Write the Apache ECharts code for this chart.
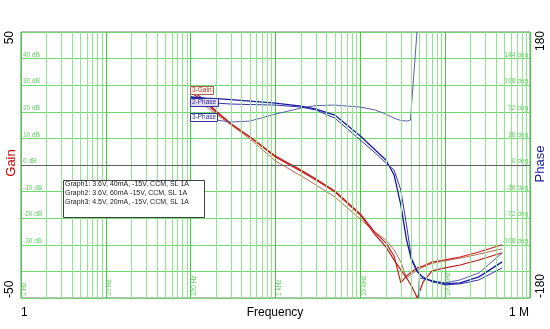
<!DOCTYPE html>
<html>
<head>
<meta charset="utf-8">
<script src="https://cdn.jsdelivr.net/npm/echarts@6/dist/echarts.min.js"></script>
<style>
html,body{margin:0;padding:0;background:#fff;}
#chart{width:550px;height:329px;}
</style>
</head>
<body>
<div id="chart"></div>
<script>
// ---- data (frequency in Hz) ----
var freq = [100, 150, 200, 300, 500, 1000, 2000, 3000, 5000, 10000, 15000, 20000, 25000, 30000, 35000, 40000, 47000, 55000, 70000, 100000, 150000, 250000, 470000];

var gain1 = [28.5, 24.0, 20.3, 15.4, 10.5, 3.4, -1.9, -5.3, -9.8, -18.4, -25.5, -29.3, -34.2, -44.3, -41.7, -40.2, -38.7, -38.0, -36.5, -35.7, -34.6, -32.7, -30.0];
var gain2 = [27.4, 23.3, 19.9, 15.4, 10.5, 3.0, -2.3, -5.6, -10.1, -18.8, -26.3, -30.8, -35.7, -39.4, -42.4, -45.4, -50.0, -43.9, -39.8, -38.7, -37.6, -35.7, -33.0];
var gain3 = [25.9, 22.2, 19.2, 15.0, 9.8, 1.5, -4.1, -7.5, -12.0, -20.3, -25.2, -28.2, -31.9, -36.4, -42.5, -41.0, -39.5, -38.3, -37.0, -36.0, -35.0, -33.5, -31.5];

var phase1 = [92.0, 90.6, 89.9, 88.5, 86.5, 83.8, 79.8, 75.7, 67.6, 39.2, 20.3, 6.8, -13.5, -54.0, -101.0, -128.0, -144.6, -152.8, -156.8, -160.9, -159.5, -151.4, -131.1];
var phase2 = [86.5, 85.2, 83.8, 82.5, 81.8, 81.1, 78.4, 74.4, 63.5, 33.8, 16.2, 2.7, -6.8, -33.8, -81.0, -125.7, -143.3, -151.4, -158.2, -162.2, -160.9, -155.5, -139.2];

var freq3 = [100, 150, 200, 300, 500, 1000, 2000, 3000, 5000, 10000, 15000, 20000, 25000, 30000, 35000, 39000, 46500, 46500, 48500, 49500, 55000, 70000, 100000, 150000, 250000, 470000];
var phase3 = [63.5, 62.2, 60.8, 58.1, 59.5, 68.9, 77.1, 80.4, 81.1, 78.4, 74.4, 68.9, 63.5, 60.2, 59.5, 60.8, 180, null, -180, -152.8, -154.0, -156.8, -159.5, -155.5, -146.0, -119.0];

var gainTicks = [-50, -40, -30, -20, -10, 0, 10, 20, 30, 40, 50];
var phaseTicks = [-180, -144, -108, -72, -36, 0, 36, 72, 108, 144, 180];
var freqTickLabels = {1: '1 Hz', 10: '10 Hz', 100: '100 Hz', 1000: '1 kHz', 10000: '10 kHz', 100000: '100 kHz'};
var legendLines = ['Graph1: 3.6V, 40mA, -15V, CCM, SL 1A', 'Graph2: 3.6V, 60mA -15V, CCM, SL 1A', 'Graph3: 4.5V, 20mA, -15V, CCM, SL 1A'];

function pairs(xs, ys) {
  return xs.map(function (x, i) { return [x, ys[i] === null ? '-' : ys[i]]; });
}

// minor grid lines 2..9 per decade
var minorLines = [];
[1, 10, 100, 1000, 10000, 100000].forEach(function (d) {
  for (var k = 2; k <= 9; k++) minorLines.push({xAxis: d * k});
});

var FONT = 'Liberation Sans';
var GREEN_TXT = '#5fcf5f';

var chart = echarts.init(document.getElementById('chart'), null, {renderer: 'canvas'});
var option = {
  animation: false,
  backgroundColor: '#ffffff',
  grid: {left: 21, right: 20, top: 32, bottom: 31, show: true, borderColor: '#7a7a7a', borderWidth: 1,
    containLabel: false, outerBoundsMode: 'none'},
  xAxis: {
    type: 'log', logBase: 10, min: 1, max: 1000000,
    axisLine: {show: false}, axisTick: {show: false},
    splitLine: {show: true, lineStyle: {color: '#3fcf3f', width: 1}},
    axisLabel: {
      inside: true, rotate: 90, margin: 2, fontSize: 6.5, fontFamily: FONT, color: GREEN_TXT,
      verticalAlign: 'top',
      formatter: function (v) { return freqTickLabels[Math.round(v)] || ''; }
    }
  },
  yAxis: [{
    type: 'value', min: -50, max: 50, interval: 10, position: 'left',
    axisLine: {show: false}, axisTick: {show: false},
    splitLine: {show: true, lineStyle: {color: '#70da70', width: 1}},
    axisLabel: {
      inside: true, margin: 2, fontSize: 6.5, fontFamily: FONT, color: GREEN_TXT, verticalAlign: 'bottom',
      formatter: function (v) { return (v === 50 || v === -50 || v === -40) ? '' : v + ' dB'; }
    }
  }, {
    type: 'value', min: -180, max: 180, interval: 36, position: 'right',
    axisLine: {show: false}, axisTick: {show: false}, splitLine: {show: false},
    axisLabel: {
      inside: true, margin: 2, fontSize: 6.5, fontFamily: FONT, color: GREEN_TXT, verticalAlign: 'bottom',
      formatter: function (v) { return (v === 180 || v === -180 || v === -144) ? '' : v + ' deg'; }
    }
  }],
  series: [
    {name: 'grid', type: 'line', data: [], silent: true,
      markLine: {silent: true, symbol: 'none', label: {show: false},
        lineStyle: {color: '#8ee68e', width: 1, type: 'solid'},
        data: minorLines}},
    {name: 'zero', type: 'line', data: [], silent: true,
      markLine: {silent: true, symbol: 'none', label: {show: false},
        lineStyle: {color: '#606060', width: 1, type: 'solid'},
        data: [{yAxis: 0}]}},
    {name: 'Gain 3', type: 'line', yAxisIndex: 0, showSymbol: false, data: pairs(freq, gain3),
      lineStyle: {color: '#b86a50', width: 1}},
    {name: 'Gain 2', type: 'line', yAxisIndex: 0, showSymbol: false, data: pairs(freq, gain2),
      lineStyle: {color: '#c01818', width: 1.2}},
    {name: 'Gain 1', type: 'line', yAxisIndex: 0, showSymbol: false, data: pairs(freq, gain1),
      lineStyle: {color: '#cc2020', width: 1.2}},
    {name: 'Phase 3', type: 'line', yAxisIndex: 1, showSymbol: false, connectNulls: false, data: pairs(freq3, phase3),
      lineStyle: {color: '#5a5fae', width: 1}},
    {name: 'Phase 2', type: 'line', yAxisIndex: 1, showSymbol: false, data: pairs(freq, phase2),
      lineStyle: {color: '#3434a8', width: 1}},
    {name: 'Phase 1', type: 'line', yAxisIndex: 1, showSymbol: false, data: pairs(freq, phase1),
      lineStyle: {color: '#1a1aa8', width: 1.3}}
  ],
  graphic: [
    // axis titles
    {type: 'text', x: 11, y: 163, rotation: Math.PI / 2, style: {text: 'Gain', font: '13px ' + FONT, fill: '#cc0000', align: 'center', verticalAlign: 'middle'}},
    {type: 'text', x: 540, y: 164, rotation: Math.PI / 2, style: {text: 'Phase', font: '13px ' + FONT, fill: '#1a1aa0', align: 'center', verticalAlign: 'middle'}},
    // outer axis end labels
    {type: 'text', x: 10, y: 31, rotation: Math.PI / 2, style: {text: '50', font: '12px ' + FONT, fill: '#000', align: 'right', verticalAlign: 'middle'}},
    {type: 'text', x: 10, y: 298, rotation: Math.PI / 2, style: {text: '-50', font: '12px ' + FONT, fill: '#000', align: 'left', verticalAlign: 'middle'}},
    {type: 'text', x: 541, y: 31, rotation: Math.PI / 2, style: {text: '180', font: '12px ' + FONT, fill: '#000', align: 'right', verticalAlign: 'middle'}},
    {type: 'text', x: 541, y: 298, rotation: Math.PI / 2, style: {text: '-180', font: '12px ' + FONT, fill: '#000', align: 'left', verticalAlign: 'middle'}},
    {type: 'text', x: 21, y: 313, style: {text: '1', font: '12px ' + FONT, fill: '#000', align: 'left', verticalAlign: 'middle'}},
    {type: 'text', x: 529, y: 313, style: {text: '1 M', font: '12px ' + FONT, fill: '#000', align: 'right', verticalAlign: 'middle'}},
    {type: 'text', x: 275, y: 313, style: {text: 'Frequency', font: '12px ' + FONT, fill: '#000', align: 'center', verticalAlign: 'middle'}},
    // legend box
    {type: 'rect', shape: {x: 63.5, y: 180.5, width: 141, height: 37}, style: {fill: '#ffffff', stroke: '#404040', lineWidth: 1}, z: 100},
    {type: 'text', x: 65, y: 184, z: 101, style: {text: legendLines[0], font: '7px ' + FONT, fill: '#202020', verticalAlign: 'middle'}},
    {type: 'text', x: 65, y: 193, z: 101, style: {text: legendLines[1], font: '7px ' + FONT, fill: '#202020', verticalAlign: 'middle'}},
    {type: 'text', x: 65, y: 202, z: 101, style: {text: legendLines[2], font: '7px ' + FONT, fill: '#202020', verticalAlign: 'middle'}},
    // curve tags
    {type: 'rect', shape: {x: 190.5, y: 86.5, width: 23, height: 8}, style: {fill: '#fff4f0', stroke: '#b06050', lineWidth: 1}, z: 100},
    {type: 'text', x: 192, y: 90.5, z: 101, style: {text: '3-Gain', font: '6.5px ' + FONT, fill: '#b04030', verticalAlign: 'middle'}},
    {type: 'rect', shape: {x: 190.5, y: 98.5, width: 28, height: 8}, style: {fill: '#e4dcf0', stroke: '#3030a0', lineWidth: 1}, z: 100},
    {type: 'text', x: 192, y: 102.5, z: 101, style: {text: '2-Phase', font: '6.5px ' + FONT, fill: '#3030a0', verticalAlign: 'middle'}},
    {type: 'rect', shape: {x: 190.5, y: 113.5, width: 27, height: 8}, style: {fill: '#ffffff', stroke: '#3030a0', lineWidth: 1}, z: 100},
    {type: 'text', x: 192, y: 117.5, z: 101, style: {text: '3-Phase', font: '6.5px ' + FONT, fill: '#3030a0', verticalAlign: 'middle'}}
  ]
};
chart.setOption(option);
</script>
</body>
</html>
